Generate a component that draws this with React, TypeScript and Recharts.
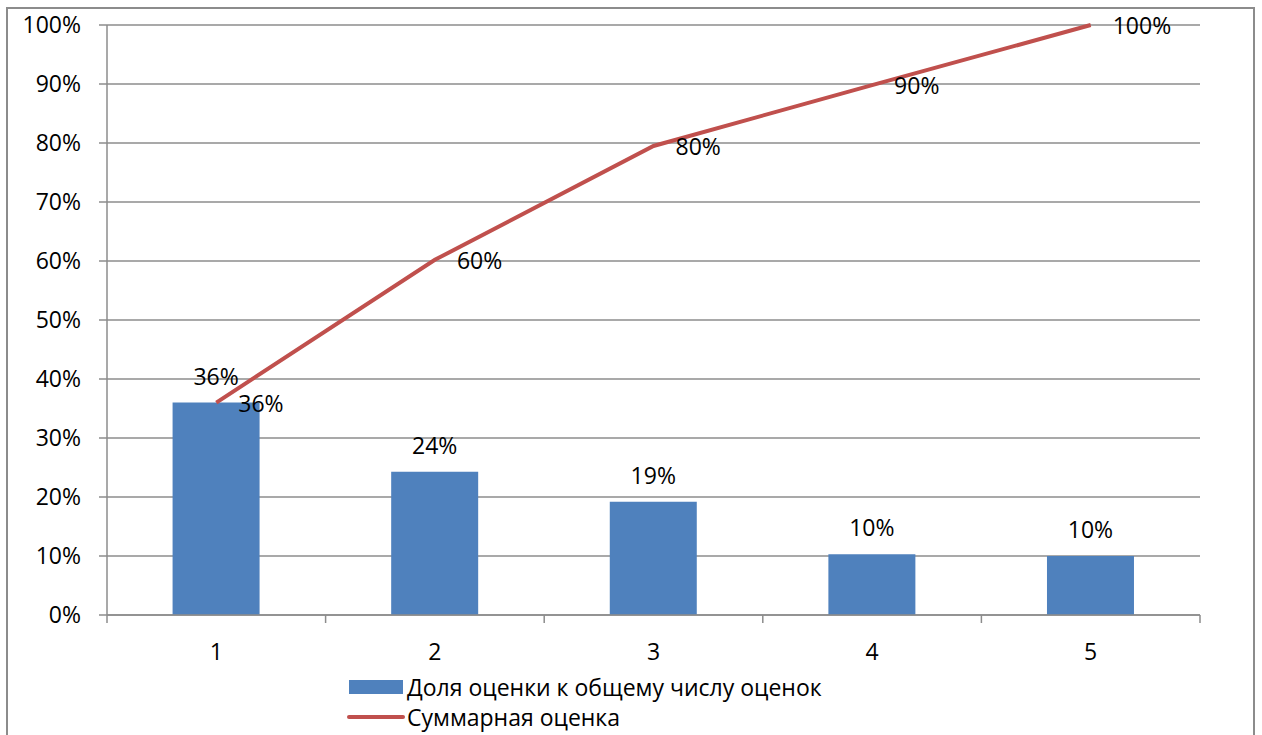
import React from "react";
import { ComposedChart, Bar, Line, XAxis, YAxis, CartesianGrid, LabelList } from "recharts";

const categories = ["1", "2", "3", "4", "5"];
const shareValues = [0.36, 0.243, 0.192, 0.103, 0.1];
const cumulativeValues = [0.36, 0.602, 0.795, 0.898, 1.0];
const yTicks = [0, 0.1, 0.2, 0.3, 0.4, 0.5, 0.6, 0.7, 0.8, 0.9, 1.0];
const seriesNames = ["Доля оценки к общему числу оценок", "Суммарная оценка"];

const BLUE = "#4F81BD";
const RED = "#C0504D";
const GRID = "#8C8C8C";
const FONT = "'Open Sans', 'Noto Sans', sans-serif";
const FS = 23;
const TICK_MARGIN = 29;

const data = categories.map((c, i) => ({
  cat: c,
  share: shareValues[i],
  cum: cumulativeValues[i],
}));

const pct = (v: number) => `${Math.round(v * 100)}%`;

function CatTick(props: any) {
  const { x, y, payload, index, visibleTicksCount } = props;
  const off = payload && typeof payload.offset === "number" ? payload.offset : 0;
  const axisY = y - TICK_MARGIN;
  const last = index === (visibleTicksCount ?? categories.length) - 1;
  return (
    <g>
      <line x1={x - off} y1={axisY} x2={x - off} y2={axisY + 8} stroke={GRID} strokeWidth={1.5} />
      {last && <line x1={x + off} y1={axisY} x2={x + off} y2={axisY + 8} stroke={GRID} strokeWidth={1.5} />}
      <text x={x} y={y} dy="0.71em" textAnchor="middle" fill="#000" fontSize={FS} fontFamily={FONT}>
        {payload.value}
      </text>
    </g>
  );
}

export default function App() {
  return (
    <div style={{ position: "absolute", left: 0, top: 0, width: 1262, height: 735, background: "#fff", overflow: "hidden", fontFamily: FONT }}>
      <div style={{ position: "absolute", left: 6, top: 7, width: 1249, height: 760, border: "2px solid #8c8c8c", boxSizing: "border-box" }} />
      <div style={{ position: "absolute", left: 0, top: 0 }}>
        <ComposedChart width={1262} height={735} data={data} margin={{ top: 25, right: 62, bottom: 0, left: 0 }} barCategoryGap="30%">
          <CartesianGrid vertical={false} stroke={GRID} strokeWidth={1.5} />
          <XAxis
            dataKey="cat"
            height={120}
            tickLine={false}
            tickSize={0}
            axisLine={{ stroke: GRID, strokeWidth: 1.5 }}
            tickMargin={TICK_MARGIN}
            tick={<CatTick />}
            interval={0}
          />
          <YAxis
            width={107}
            domain={[0, 1]}
            ticks={yTicks}
            tickFormatter={pct}
            tickSize={8}
            tickMargin={18}
            tickLine={{ stroke: GRID, strokeWidth: 1.5 }}
            axisLine={{ stroke: GRID, strokeWidth: 1.5 }}
            tick={{ fill: "#000", fontSize: FS, fontFamily: FONT }}
            interval={0}
          />
          <Bar dataKey="share" fill={BLUE} isAnimationActive={false}>
            <LabelList dataKey="share" position="top" offset={18} formatter={(v: any) => pct(Number(v))} style={{ fill: "#000", fontSize: FS, fontFamily: FONT }} />
          </Bar>
          <Line dataKey="cum" stroke={RED} strokeWidth={4} dot={false} isAnimationActive={false} type="linear">
            <LabelList dataKey="cum" position="right" offset={22} dy={1} formatter={(v: any) => pct(Number(v))} style={{ fill: "#000", fontSize: FS, fontFamily: FONT }} />
          </Line>
        </ComposedChart>
      </div>
      <div style={{ position: "absolute", left: 347, top: 671, fontSize: FS, color: "#000", lineHeight: "30px" }}>
        <div style={{ display: "flex", alignItems: "center", height: 32 }}>
          <svg width={60} height={30}>
            <rect x={2} y={8} width={54} height={14} fill={BLUE} />
          </svg>
          <span>{seriesNames[0]}</span>
        </div>
        <div style={{ display: "flex", alignItems: "center", height: 28 }}>
          <svg width={60} height={30}>
            <line x1={2} y1={15} x2={56} y2={15} stroke={RED} strokeWidth={4} strokeLinecap="round" />
          </svg>
          <span>{seriesNames[1]}</span>
        </div>
      </div>
    </div>
  );
}
